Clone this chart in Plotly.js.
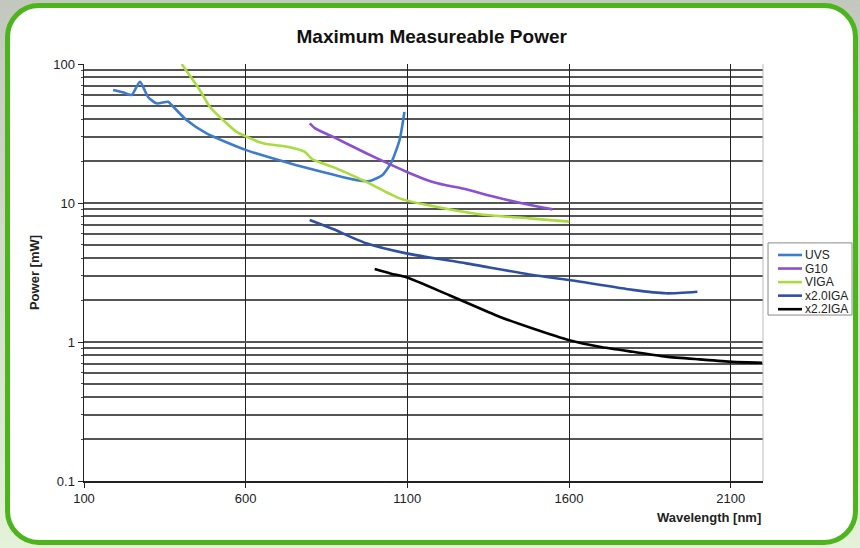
<!DOCTYPE html>
<html>
<head>
<meta charset="utf-8">
<script src="https://cdn.plot.ly/plotly-3.0.1.min.js"></script>
<style>
  html, body { margin:0; padding:0; width:860px; height:548px; overflow:hidden;
    background: linear-gradient(180deg, #c3c8bf 0%, #d6e2cc 60%, #e4f2da 100%); }
  #frame { position:absolute; left:5px; top:3px; width:843px; height:532px;
    border:5px solid #4cb51c; border-radius:34px; background:#ffffff; }
  #chart { position:absolute; left:0; top:0; width:860px; height:548px; }
</style>
</head>
<body>
<div id="frame"></div>
<div id="chart"></div>
<script>
// ---- data ----
const seriesNames = ["UVS", "G10", "VIGA", "x2.0IGA", "x2.2IGA"];

const uvsX = [190, 220, 247, 273, 298, 324, 360, 371, 417, 479, 602, 736, 838, 943, 983, 1023, 1051, 1076, 1091];
const uvsY = [65, 62.5, 59.8, 74.6, 57.9, 52.1, 53.5, 50.7, 39.5, 31.7, 24.0, 19.3, 16.7, 14.6, 14.4, 15.9, 19.7, 28.4, 45.2];

const g10X = [798, 815, 869, 973, 1035, 1097, 1169, 1220, 1271, 1375, 1477, 1549];
const g10Y = [37.4, 34.4, 30, 22.8, 19.5, 16.8, 14.4, 13.4, 12.7, 11.0, 9.7, 9.0];

const vigaX = [402, 458, 489, 530, 571, 602, 654, 736, 782, 807, 869, 973, 1076, 1158, 1323, 1477, 1601];
const vigaY = [100, 65, 49.3, 39.5, 32.6, 30, 26.9, 25.2, 23.4, 20.6, 18.2, 14.2, 10.8, 9.7, 8.3, 7.75, 7.35];

const x20X = [798, 870, 973, 1097, 1282, 1488, 1601, 1797, 1900, 1997];
const x20Y = [7.55, 6.5, 5.13, 4.34, 3.68, 3.03, 2.79, 2.37, 2.24, 2.30];

const x22X = [999, 1050, 1097, 1230, 1385, 1488, 1601, 1694, 1797, 1900, 2003, 2105, 2198];
const x22Y = [3.35, 3.1, 2.92, 2.17, 1.52, 1.25, 1.03, 0.925, 0.85, 0.785, 0.75, 0.72, 0.71];

const xTickVals = [100, 600, 1100, 1600, 2100];
const xTickText = ["100", "600", "1100", "1600", "2100"];
const yTickVals = [0.1, 1, 10, 100];
const yTickText = ["0.1", "1", "10", "100"];

const colors = ["#3d7ccc", "#8b4fd2", "#a9dc3e", "#2f50a2", "#000000"];

// ---- traces ----
const xs = [uvsX, g10X, vigaX, x20X, x22X];
const ys = [uvsY, g10Y, vigaY, x20Y, x22Y];
const traces = seriesNames.map((n, i) => ({
  type: "scatter", mode: "lines", name: n, x: xs[i], y: ys[i],
  line: { color: colors[i], width: 2.6, shape: "spline", smoothing: 0.6 },
  showlegend: false
}));

const gridCol = "#555555";
const font = "Liberation Sans, Arial, sans-serif";

// ---- legend box (drawn in paper coordinates) ----
const legX0 = 1.0074, legX1 = 1.1311, legY0 = 0.398, legY1 = 0.571;
const legRowTop = 0.542, legRowStep = 0.0325;
const shapes = [
  { type: "line", xref: "paper", yref: "paper", x0: 1, x1: 1, y0: 0, y1: 1, line: { color: "#bbbbbb", width: 1 } },
  { type: "rect", xref: "paper", yref: "paper", x0: legX0, x1: legX1, y0: legY0, y1: legY1,
    line: { color: "#8a8a8a", width: 1 }, fillcolor: "#ffffff" }
];
const annotations = [{
  text: "<b>Wavelength [nm]</b>", xref: "paper", yref: "paper", x: 1, y: 0,
  xanchor: "right", yanchor: "top", yshift: -27, showarrow: false,
  font: { family: font, size: 13, color: "#222" }
}];
seriesNames.forEach((n, i) => {
  const yy = legRowTop - i * legRowStep;
  shapes.push({ type: "line", xref: "paper", yref: "paper", x0: 1.0221, x1: 1.0574, y0: yy, y1: yy,
                line: { color: colors[i], width: 2.6 } });
  annotations.push({ text: n, xref: "paper", yref: "paper", x: 1.0589, y: yy, xanchor: "left", yanchor: "middle",
                     showarrow: false, font: { family: font, size: 12, color: "#222" } });
});

const layout = {
  width: 860, height: 548,
  paper_bgcolor: "rgba(0,0,0,0)",
  plot_bgcolor: "#ffffff",
  margin: { l: 84, r: 97, t: 64, b: 67, autoexpand: false },
  font: { family: font, size: 13, color: "#222" },
  title: { text: "<b>Maximum Measureable Power</b>", font: { family: font, size: 19, color: "#111" },
           x: 0.502, xref: "container", xanchor: "center", y: 0.934, yref: "container", yanchor: "middle" },
  xaxis: {
    range: [100, 2200], tickvals: xTickVals, ticktext: xTickText,
    showgrid: true, gridcolor: "#222222", gridwidth: 1,
    zeroline: false, showline: true, linecolor: "#222", linewidth: 1.5,
    ticks: "outside", ticklen: 5, tickcolor: "#222",
    tickfont: { family: font, size: 13, color: "#222" }
  },
  yaxis: {
    type: "log", range: [-1, 2], tickvals: yTickVals, ticktext: yTickText,
    showgrid: true, gridcolor: gridCol, gridwidth: 2,
    zeroline: false, showline: true, linecolor: "#222", linewidth: 1.5,
    ticks: "outside", ticklen: 5, tickcolor: "#222",
    tickfont: { family: font, size: 13, color: "#222" },
    minor: { dtick: "D1", showgrid: true, gridcolor: gridCol, gridwidth: 2, ticks: "outside", ticklen: 2, tickcolor: "#444" },
    title: { text: "<b>Power [mW]</b>", font: { family: font, size: 13, color: "#222" }, standoff: 10 }
  },
  annotations: annotations,
  shapes: shapes,
  showlegend: false
};

Plotly.newPlot("chart", traces, layout, { displayModeBar: false, staticPlot: true });
</script>
</body>
</html>
